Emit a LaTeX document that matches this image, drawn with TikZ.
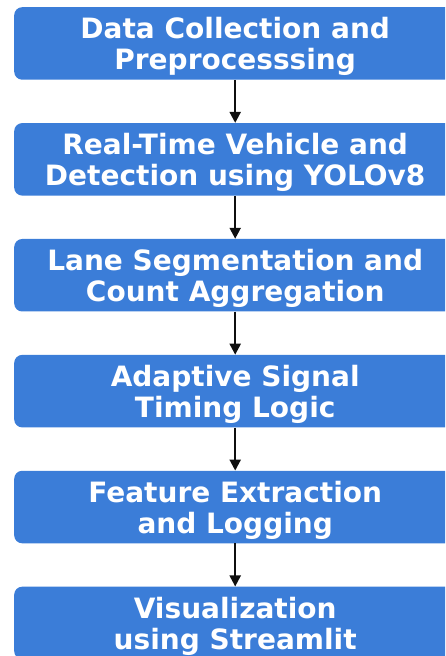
\documentclass[tikz,border=0pt]{standalone}
\usepackage{fontspec}
\setmainfont{DejaVu Sans}
\usepackage{tikz}
\usetikzlibrary{arrows.meta,positioning}
\definecolor{StageBlue}{RGB}{59,125,216}
\definecolor{ArrowBlack}{RGB}{15,15,15}

\begin{document}
\begin{tikzpicture}[
  x=1pt, y=1pt,
  stage/.style={fill=StageBlue, rounded corners=8pt, minimum width=442pt, minimum height=72.5pt,
    inner sep=0pt, text depth=0pt, align=center, text=white, font=\fontsize{28}{31}\selectfont\bfseries},
  arr/.style={-{Triangle[length=11pt, width=11pt]}, line width=2.2pt, ArrowBlack},
  node distance=43pt
]
  \useasboundingbox (0,0) rectangle (445,656);
  \clip (0,0) rectangle (445,656);

  \node[stage, anchor=north west] (p1) at (14,649) {Data Collection and\\Preprocesssing};
  \node[stage, below=of p1] (p2) {Real-Time Vehicle and\\Detection using YOLOv8};
  \node[stage, below=of p2] (p3) {Lane Segmentation and\\Count Aggregation};
  \node[stage, below=of p3] (p4) {Adaptive Signal\\Timing Logic};
  \node[stage, below=of p4] (p5) {Feature Extraction\\and Logging};
  \node[stage, below=of p5] (p6) {Visualization\\using Streamlit};

  \foreach \i/\j in {1/2,2/3,3/4,4/5,5/6}
    \draw[arr] (p\i) -- (p\j);
\end{tikzpicture}
\end{document}
